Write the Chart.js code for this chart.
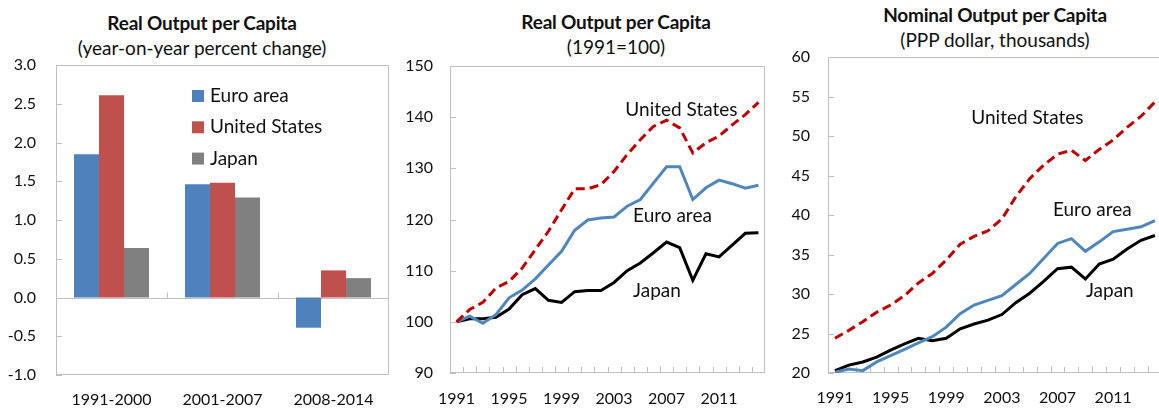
<!DOCTYPE html>
<html>
<head>
<meta charset="utf-8">
<script src="https://cdn.jsdelivr.net/npm/chart.js@4/dist/chart.umd.min.js"></script>
<style>
  html, body { margin: 0; padding: 0; width: 1159px; height: 409px; overflow: hidden; background: #fff; }
  body { position: relative; font-family: Lato, 'Open Sans', sans-serif; color: #111; }
  canvas { position: absolute; top: 0; }
  .title { position: absolute; width: 400px; text-align: center; font-size: 19px; line-height: 25px; white-space: nowrap; }
  .title.bold { font-weight: 700; letter-spacing: -0.2px; }
</style>
</head>
<body>
<div class="title bold" style="left:2px;top:10px">Real Output per Capita</div>
<div class="title" style="left:2px;top:35px">(year-on-year percent change)</div>
<div class="title bold" style="left:416px;top:9px">Real Output per Capita</div>
<div class="title" style="left:416px;top:34px">(1991=100)</div>
<div class="title bold" style="left:795px;top:2px">Nominal Output per Capita</div>
<div class="title" style="left:795px;top:27px">(PPP dollar, thousands)</div>

<canvas id="growth" width="400" height="409" style="left:0px"></canvas>
<canvas id="real" width="390" height="409" style="left:390px"></canvas>
<canvas id="nominal" width="400" height="409" style="left:770px"></canvas>

<script>
// panel 1: average growth by period
const periods = ['1991-2000', '2001-2007', '2008-2014'];
const growthEuro = [1.85, 1.46, -0.39];
const growthUS = [2.61, 1.48, 0.35];
const growthJapan = [0.64, 1.29, 0.25];

const years = ['1991', '1992', '1993', '1994', '1995', '1996', '1997', '1998',
  '1999', '2000', '2001', '2002', '2003', '2004', '2005', '2006',
  '2007', '2008', '2009', '2010', '2011', '2012', '2013', '2014'];
const shownYears = ['1991', '1995', '1999', '2003', '2007', '2011'];

// panel 2: real output per capita, 1991=100
const realUS = [100, 102.4, 103.8, 106.6, 107.9, 110.5, 114.1, 117.7, 121.9, 126.0, 126.0, 126.8,
  129.4, 132.7, 135.6, 138.2, 139.4, 137.9, 133.0, 135.0, 136.3, 138.5, 140.5, 142.9];
const realEuro = [100, 101.1, 99.7, 101.4, 104.7, 106.2, 108.4, 111.1, 113.8, 117.9, 119.9, 120.3,
  120.5, 122.6, 123.9, 127.1, 130.3, 130.3, 123.9, 126.2, 127.7, 127.0, 126.1, 126.7];
const realJapan = [100, 100.6, 100.6, 100.9, 102.5, 105.3, 106.5, 104.2, 103.8, 105.9, 106.1, 106.1,
  107.7, 110.0, 111.5, 113.5, 115.6, 114.5, 108.1, 113.3, 112.7, 115.0, 117.3, 117.4];

// panel 3: nominal output per capita, PPP dollar thousands
const nomUS = [24.4, 25.4, 26.5, 27.7, 28.6, 29.8, 31.4, 32.6, 34.3, 36.3, 37.3, 38.0,
  39.5, 42.3, 44.6, 46.3, 47.7, 48.2, 46.9, 48.3, 49.5, 51.1, 52.5, 54.3];
const nomEuro = [20.1, 20.5, 20.3, 21.4, 22.2, 23.0, 23.8, 24.6, 25.8, 27.5, 28.6, 29.2,
  29.8, 31.2, 32.6, 34.5, 36.4, 37.0, 35.4, 36.6, 37.9, 38.2, 38.5, 39.3];
const nomJapan = [20.3, 21.0, 21.4, 22.0, 22.9, 23.7, 24.4, 24.1, 24.4, 25.6, 26.2, 26.7,
  27.4, 28.9, 30.1, 31.6, 33.2, 33.4, 31.9, 33.8, 34.4, 35.7, 36.8, 37.4];

const BLUE = '#4f81bd', RED = '#c0504d', GREY = '#808080';
const LINE_BLUE = '#4f87ba', LINE_RED = '#c00000', LINE_BLACK = '#000000';
const LABEL_FONT = '19px Lato, "Open Sans", sans-serif';

Chart.defaults.font.family = 'Lato, "Open Sans", sans-serif';
Chart.defaults.font.size = 16;
Chart.defaults.color = '#111';

// box, inside tick marks, optional zero line
const frame = {
  id: 'frame',
  beforeDatasetsDraw(chart, args, opts) {
    const { ctx, chartArea: a, scales } = chart;
    const seg = (x1, y1, x2, y2) => { ctx.beginPath(); ctx.moveTo(x1, y1); ctx.lineTo(x2, y2); ctx.stroke(); };
    ctx.save();
    ctx.strokeStyle = '#bfbfbf';
    ctx.lineWidth = 1;
    ctx.strokeRect(a.left + 0.5, a.top + 0.5, a.width - 1, a.height - 1);
    scales.y.ticks.forEach((t, i) => {
      const y = Math.round(scales.y.getPixelForTick(i)) + 0.5;
      seg(a.left, y, a.left + 6, y);
    });
    let base = a.bottom;
    if (opts.zeroLine) {
      base = Math.round(scales.y.getPixelForValue(0)) + 0.5;
      seg(a.left, base, a.right, base);
    }
    const n = scales.x.ticks.length;
    for (let k = 1; k < n; k++) {
      const x = Math.round(a.left + k * a.width / n) + 0.5;
      seg(x, base, x, base - 6);
    }
    ctx.restore();
  }
};

// legend drawn inside the plot (panel 1)
const boxLegend = {
  id: 'boxLegend',
  afterDraw(chart, args, opts) {
    if (!opts.show) return;
    const ctx = chart.ctx;
    ctx.save();
    ctx.font = LABEL_FONT;
    ctx.textBaseline = 'middle';
    chart.data.datasets.forEach((ds, i) => {
      const y = opts.y + i * opts.gap;
      ctx.fillStyle = ds.backgroundColor;
      ctx.fillRect(opts.x, y - 6, 12, 12);
      ctx.fillStyle = '#111';
      ctx.fillText(ds.label, opts.x + 18, y);
    });
    ctx.restore();
  }
};

// series names written next to the lines
const lineLabels = {
  id: 'lineLabels',
  afterDatasetsDraw(chart, args, opts) {
    if (!opts.items) return;
    const { ctx, scales } = chart;
    ctx.save();
    ctx.font = LABEL_FONT;
    ctx.fillStyle = '#111';
    ctx.textBaseline = 'middle';
    opts.items.forEach(it => {
      const name = chart.data.datasets[it.ds].label;
      ctx.fillText(name, scales.x.getPixelForValue(it.at), scales.y.getPixelForValue(it.value));
    });
    ctx.restore();
  }
};

new Chart(document.getElementById('growth'), {
  type: 'bar',
  data: {
    labels: periods,
    datasets: [
      { label: 'Euro area', data: growthEuro, backgroundColor: BLUE },
      { label: 'United States', data: growthUS, backgroundColor: RED },
      { label: 'Japan', data: growthJapan, backgroundColor: GREY }
    ]
  },
  options: {
    responsive: false,
    animation: false,
    categoryPercentage: 0.676,
    barPercentage: 1,
    layout: { padding: { top: 65, right: 11, left: 0, bottom: 0 } },
    plugins: {
      legend: { display: false },
      tooltip: { enabled: false },
      frame: { zeroLine: true },
      boxLegend: { show: true, x: 192, y: 96, gap: 31.3 }
    },
    scales: {
      x: {
        grid: { display: false, drawTicks: false },
        border: { display: false },
        ticks: { padding: 15 },
        afterFit(s) { s.height = 34; }
      },
      y: {
        min: -1, max: 3,
        grid: { display: false, drawTicks: false },
        border: { display: false },
        ticks: { stepSize: 0.5, padding: 20, callback: v => v.toFixed(1) },
        afterFit(s) { s.width = 56; }
      }
    }
  },
  plugins: [frame, boxLegend]
});

function lineChart(id, sets, yMin, yMax, step, pad, yWidth, tickPad, xPad, labels) {
  return new Chart(document.getElementById(id), {
    type: 'line',
    data: {
      labels: years,
      datasets: [
        { label: 'United States', data: sets[0], borderColor: LINE_RED, borderWidth: 3, borderDash: [9, 5], pointRadius: 0 },
        { label: 'Euro area', data: sets[1], borderColor: LINE_BLUE, borderWidth: 3, pointRadius: 0 },
        { label: 'Japan', data: sets[2], borderColor: LINE_BLACK, borderWidth: 3, pointRadius: 0 }
      ]
    },
    options: {
      responsive: false,
      animation: false,
      layout: { padding: pad },
      plugins: {
        legend: { display: false },
        tooltip: { enabled: false },
        frame: {},
        lineLabels: { items: labels }
      },
      scales: {
        x: {
          offset: true,
          grid: { display: false, drawTicks: false, offset: true },
          border: { display: false },
          ticks: {
            autoSkip: false, maxRotation: 0, padding: xPad,
            callback: (v, i) => shownYears.includes(years[i]) ? years[i] : ''
          },
          afterFit(s) { s.height = 36; }
        },
        y: {
          min: yMin, max: yMax,
          grid: { display: false, drawTicks: false },
          border: { display: false },
          ticks: { stepSize: step, padding: tickPad },
          afterFit(s) { s.width = yWidth; }
        }
      }
    },
    plugins: [frame, lineLabels]
  });
}

lineChart('real', [realUS, realEuro, realJapan], 90, 150, 10,
  { top: 66, right: 15, left: 0, bottom: 0 }, 60, 17, 16,
  [{ ds: 0, at: 12.86, value: 141.4 }, { ds: 1, at: 13.45, value: 120.7 }, { ds: 2, at: 13.45, value: 106.0 }]);

lineChart('nominal', [nomUS, nomEuro, nomJapan], 20, 60, 5,
  { top: 57, right: 4, left: 0, bottom: 0 }, 58, 18, 15,
  [{ ds: 0, at: 9.8, value: 52.3 }, { ds: 1, at: 15.67, value: 40.7 }, { ds: 2, at: 18.04, value: 30.4 }]);
</script>
</body>
</html>
